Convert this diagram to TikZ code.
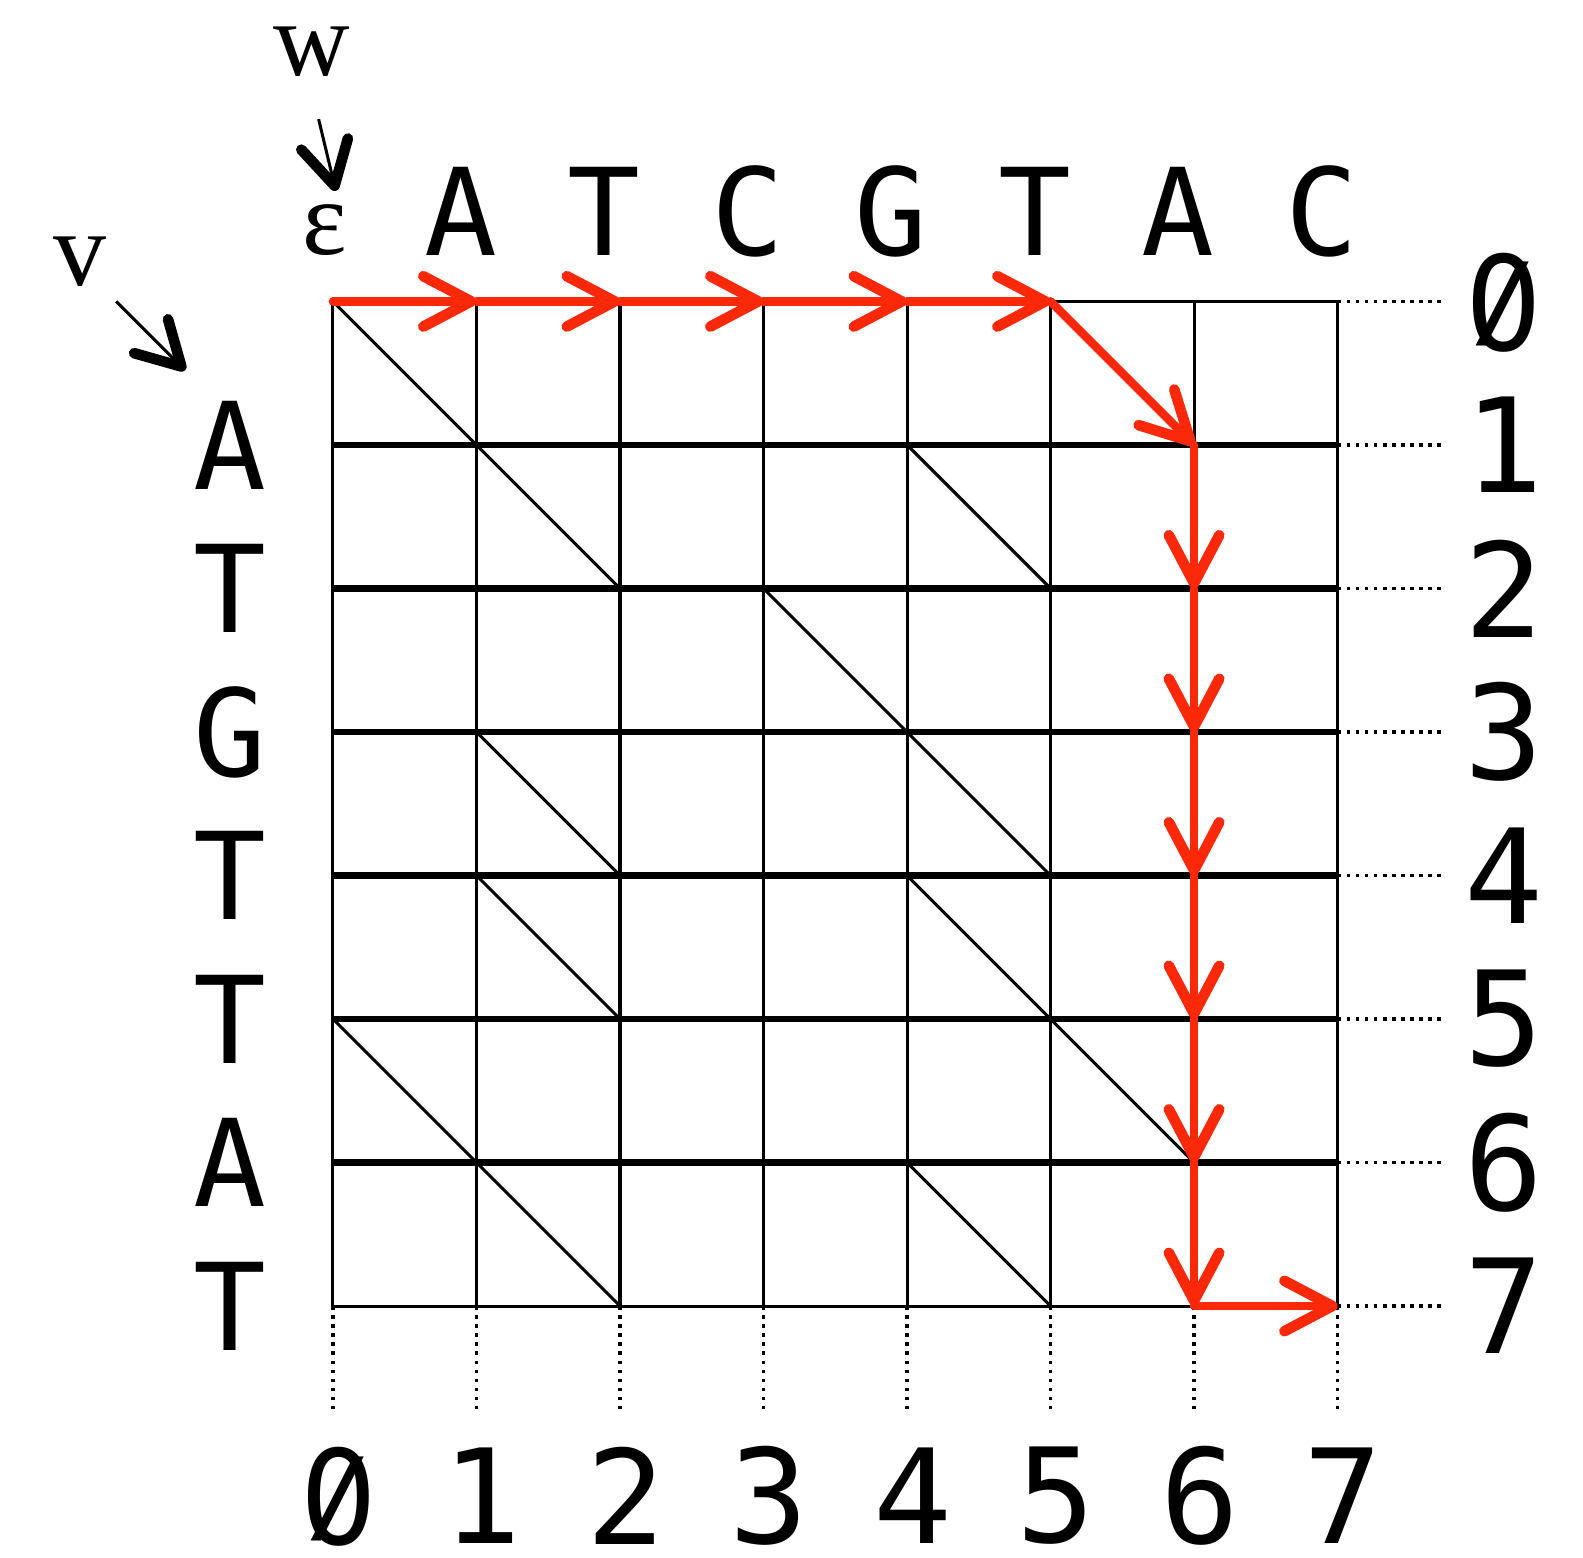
\documentclass[tikz,border=0pt]{standalone}
\usepackage{fontspec}
\setmainfont{Liberation Serif}
\newfontfamily\seqfont{DejaVu Sans Mono}
\newfontfamily\zerofont{DejaVu Sans}
\usetikzlibrary{arrows.meta}
\definecolor{pathred}{RGB}{252,40,10}
\newcommand\slashzero{\ooalign{\hfil\scalebox{0.92}[1]{\zerofont 0}\hfil\cr
  \hfil\raisebox{0.1em}{\scalebox{0.85}[0.78]{/}}\hfil\cr}}
\newcommand\idx[1]{\ifnum#1=0 \slashzero\else#1\fi}

\begin{document}
\begin{tikzpicture}[
    thinline/.style={line width=0.6pt},
    thickline/.style={line width=1.3pt},
    guide/.style={line width=0.7pt, dash pattern=on 0.7pt off 1.1pt},
    pathedge/.style={pathred, line width=1.7pt, line cap=round,
      -{Straight Barb[length=9.5pt, width=10pt, line width=2.1pt, round]}},
    pointer/.style={line width=0.6pt,
      -{Straight Barb[length=8.5pt, width=9.5pt, line width=2.1pt, round]}},
    seqletter/.style={font=\seqfont\fontsize{24}{24}\selectfont, inner sep=0pt},
    idxlabel/.style={font=\seqfont\fontsize{26}{26}\selectfont, inner sep=0pt},
    strname/.style={font=\fontsize{21}{21}\selectfont, inner sep=0pt}]

  \useasboundingbox (-2.32,2.10) rectangle (8.71,-8.75);

  \foreach \i in {0,...,7}
    \foreach \j in {0,...,7}
      \coordinate (n-\i-\j) at (\i,-\j);

  % grid
  \foreach \i in {0,...,7}
    \draw[thinline] (n-\i-0) -- (n-\i-7);
  \draw[thinline] (n-0-0) -- (n-7-0);
  \draw[thinline] (n-0-7) -- (n-7-7);
  \foreach \j in {1,...,6}
    \draw[thickline] (n-0-\j) -- (n-7-\j);

  % matches
  \foreach \c/\r/\cc/\rr in {0/0/1/1, 5/0/6/1, 1/1/2/2, 4/1/5/2, 3/2/4/3,
      1/3/2/4, 4/3/5/4, 1/4/2/5, 4/4/5/5, 0/5/1/6, 5/5/6/6, 1/6/2/7, 4/6/5/7}
    \draw[thinline] (n-\c-\r) -- (n-\cc-\rr);

  \foreach \j in {0,...,7}
    \draw[guide] (n-7-\j) -- ++(0.72,0);
  \foreach \i in {0,...,7}
    \draw[guide] (n-\i-7) -- ++(0,-0.72);

  % path
  \foreach \i in {0,...,4}{
    \pgfmathtruncatemacro\k{\i+1}
    \draw[pathedge] (n-\i-0) -- (n-\k-0);
  }
  \draw[pathedge] (n-5-0) -- (n-6-1);
  \foreach \j in {1,...,6}{
    \pgfmathtruncatemacro\k{\j+1}
    \draw[pathedge] (n-6-\j) -- (n-6-\k);
  }
  \draw[pathedge] (n-6-7) -- (n-7-7);

  % labels
  \node[strname] (w) at (-0.15,1.74) {w};
  \node[strname] (eps) at (-0.06,0.50) {ε};
  \node[strname] (v) at (-1.76,0.28) {v};
  \coordinate (w-tail) at (-0.10,1.27);
  \coordinate (w-head) at (0.02,0.77);
  \coordinate (v-tail) at (-1.51,0);
  \coordinate (v-head) at (-1.03,-0.48);
  \draw[pointer] (w-tail) -- (w-head);
  \draw[pointer] (v-tail) -- (v-head);

  \foreach \c [count=\i] in {A,T,C,G,T,A,C}
    \node[seqletter] (top-\i) at (\i-0.11,0.63) {\c};
  \foreach \c [count=\j] in {A,T,G,T,T,A,T}
    \node[seqletter] (left-\j) at (-0.72,-\j) {\c};
  \foreach \j in {0,...,7}
    \node[idxlabel] (row-\j) at (8.16,-\j) {\idx{\j}};
  \foreach \i in {0,...,7}
    \node[idxlabel] (col-\i) at (\i+0.04,-8.32) {\idx{\i}};
\end{tikzpicture}
\end{document}
